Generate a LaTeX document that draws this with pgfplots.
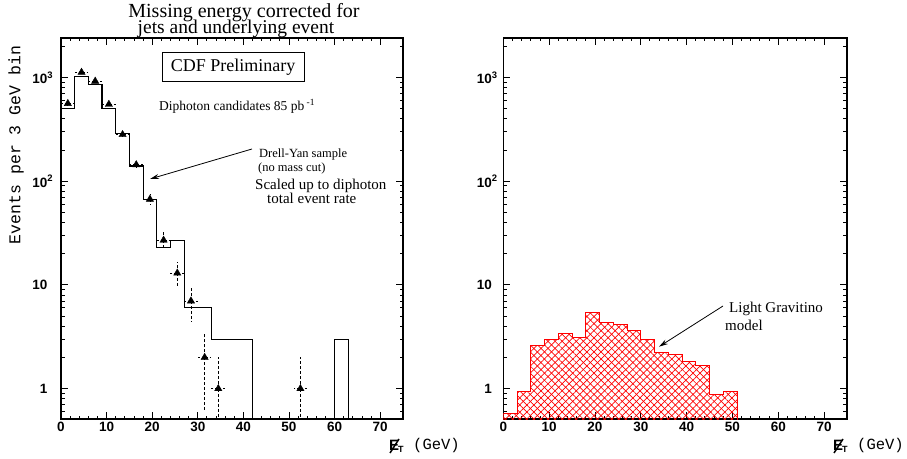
\documentclass[border=0pt]{standalone}
\usepackage{fontspec}
\setmainfont{Liberation Serif}
\setsansfont{Liberation Sans}
\setmonofont{Liberation Mono}
\usepackage{pgfplots}
\pgfplotsset{compat=1.18}
\usepackage{pgfplotstable}
\usetikzlibrary{arrows.meta,patterns.meta}

% Drell-Yan histogram (3 GeV bins, value holds until next x)
\pgfplotstableread{
x y
0 500
3 1030
6 850
9 500
12 290
15 140
18 66
21 23
24 27
27 6
30 6
33 3
42 0.01
60 3
63 0.01
}\dyhist

% diphoton candidates
\pgfplotstableread{
x y ex eyp eym
1.5 560 1.5 23.7 23.7
4.5 1120 1.5 33.5 33.5
7.5 920 1.5 30.3 30.3
10.5 550 1.5 23.5 23.5
13.5 281 1.5 16.8 16.8
16.5 144 1.5 12.0 12.0
19.5 67 1.5 8.2 8.2
22.5 27 1.5 5.2 5.2
25.5 13 1.5 3.6 3.6
28.5 7 1.5 2.65 2.65
31.5 2 1.5 1.41 1.41
34.5 1 1.5 1.0 0.99
52.5 1 1.5 1.0 0.99
}\cands

% light gravitino model
\pgfplotstableread{
x y
0 0.01
0 0.57
3 0.94
6 2.6
9 2.95
12 3.39
15 3.13
18 5.4
21 4.32
24 4.14
27 3.62
30 2.99
33 2.24
36 2.13
39 1.81
42 1.69
45 0.88
48 0.94
51 0.01
}\grav

\begin{document}
\begin{tikzpicture}
\useasboundingbox (0,0) rectangle (907pt,458pt);

\begin{axis}[
  at={(61pt,39pt)}, anchor=south west,
  scale only axis, width=342pt, height=381pt,
  xmin=0, xmax=75, ymode=log, ymin=0.51, ymax=2400,
  xtick={0,10,...,70}, minor x tick num=4,
  ytick={1,10,100,1000},
  yticklabels={1,10,10\rlap{\textsuperscript{2}},10\rlap{\textsuperscript{3}}},
  minor ytick={0.6,0.7,0.8,0.9,2,3,4,5,6,7,8,9,20,30,40,50,60,70,80,90,200,300,400,500,600,700,800,900,2000},
  tick align=inside, major tick length=7pt, minor tick length=3.5pt,
  axis line style={line width=1.2pt},
  every tick/.style={black, line width=0.9pt},
  tick label style={font=\fontsize{13.5}{14}\sffamily\bfseries},
  yticklabel style={xshift=-10pt},
  /pgf/number format/assume math mode=true,
]
\addplot[black, line width=1.1pt, const plot mark left] table[x=x,y=y]{\dyhist};
\addplot[black, only marks, mark=triangle*, mark size=4.2pt,
  error bars/.cd, x dir=both, x explicit, y dir=both, y explicit,
  error bar style={densely dashed, line width=0.8pt}, error mark=none]
  table[x=x, y=y, x error=ex, y error plus=eyp, y error minus=eym]{\cands};
\end{axis}

\begin{axis}[
  at={(503.3pt,39pt)}, anchor=south west,
  scale only axis, width=343.7pt, height=381pt,
  xmin=0, xmax=75, ymode=log, ymin=0.51, ymax=2400,
  xtick={0,10,...,70}, minor x tick num=4,
  ytick={1,10,100,1000},
  yticklabels={1,10,10\rlap{\textsuperscript{2}},10\rlap{\textsuperscript{3}}},
  minor ytick={0.6,0.7,0.8,0.9,2,3,4,5,6,7,8,9,20,30,40,50,60,70,80,90,200,300,400,500,600,700,800,900,2000},
  tick align=inside, major tick length=7pt, minor tick length=3.5pt,
  axis line style={line width=1.2pt},
  every tick/.style={black, line width=0.9pt},
  tick label style={font=\fontsize{13.5}{14}\sffamily\bfseries},
  yticklabel style={xshift=-8pt},
  /pgf/number format/assume math mode=true,
]
\addplot[draw=none, const plot mark left, pattern={Lines[angle=45,distance=5pt,line width=0.7pt]}, pattern color=red] table[x=x,y=y]{\grav};
\addplot[draw=none, const plot mark left, pattern={Lines[angle=-45,distance=5pt,line width=0.7pt]}, pattern color=red] table[x=x,y=y]{\grav};
\addplot[red, line width=1pt, const plot mark left] table[x=x,y=y]{\grav};
\end{axis}

% title
\node[anchor=base, font=\fontsize{20}{20}\selectfont] at (244pt,440pt) {Missing energy corrected for};
\node[anchor=base, font=\fontsize{19.5}{20}\selectfont] at (236pt,424pt) {jets and underlying event};

% y label
\node[rotate=90, font=\fontsize{16.5}{17}\ttfamily] at (16pt,313pt) {Events per 3 GeV bin};

% x labels: missing E_T (GeV)
\foreach \xo in {389,833} {
  \node[anchor=base west, inner sep=0pt, font=\fontsize{15}{15}\sffamily\bfseries] at (\xo pt,8pt) {E};
  \node[anchor=base west, inner sep=0pt, font=\fontsize{9}{9}\sffamily\bfseries] at (\xo pt+9pt,5.5pt) {T};
  \draw[line width=1.5pt] (\xo pt+1pt,5pt) -- (\xo pt+10pt,19pt);
  \node[anchor=base west, inner sep=0pt, font=\fontsize{15.5}{16}\ttfamily] at (\xo pt+24pt,8.5pt) {(GeV)};
}

% left annotations
\draw[line width=1pt] (162pt,376pt) rectangle (304pt,405pt);
\node[font=\fontsize{18}{18}\selectfont] at (233pt,390.5pt) {CDF Preliminary};
\node[anchor=base west, inner sep=0pt, font=\fontsize{13.5}{14}\selectfont] at (159pt,347pt) {Diphoton candidates 85 pb\textsuperscript{ -1}};
\node[anchor=base west, inner sep=0pt, font=\fontsize{12.5}{13}\selectfont] at (259pt,300.7pt) {Drell-Yan sample};
\node[anchor=base west, inner sep=0pt, font=\fontsize{12.5}{13}\selectfont] at (258pt,286.7pt) {(no mass cut)};
\node[anchor=base west, inner sep=0pt, font=\fontsize{15}{15}\selectfont] at (255pt,268.7pt) {Scaled up to diphoton};
\node[anchor=base west, inner sep=0pt, font=\fontsize{15}{15}\selectfont] at (267pt,254.7pt) {total event rate};
\draw[line width=0.8pt, -{Stealth[length=9pt,width=5pt]}] (252pt,309pt) -- (150pt,279pt);

% right annotations
\node[anchor=base west, inner sep=0pt, font=\fontsize{15}{15}\selectfont] at (729pt,145.3pt) {Light Gravitino};
\node[anchor=base west, inner sep=0pt, font=\fontsize{15}{15}\selectfont] at (725pt,128pt) {model};
\draw[line width=0.8pt, -{Stealth[length=9pt,width=5pt]}] (723pt,152pt) -- (659pt,111.3pt);
\end{tikzpicture}
\end{document}
